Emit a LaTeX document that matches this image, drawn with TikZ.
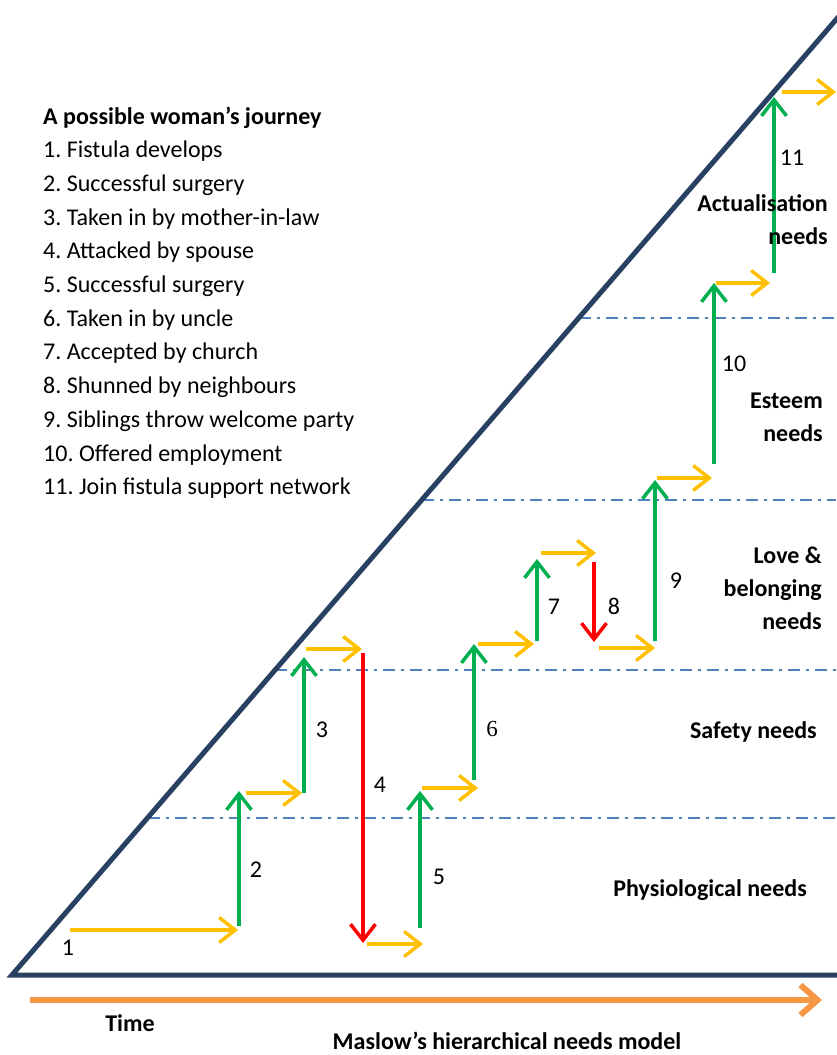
\documentclass[tikz,border=0pt]{standalone}
\usepackage{fontspec}
\setmainfont{Carlito}
\newfontfamily\numserif{Liberation Serif}
\usetikzlibrary{arrows.meta}
\definecolor{navy}{RGB}{40,64,98}
\definecolor{gold}{RGB}{255,192,0}
\definecolor{leaf}{RGB}{0,176,80}
\definecolor{alarm}{RGB}{255,0,0}
\definecolor{steel}{RGB}{79,129,189}
\definecolor{amber}{RGB}{247,150,70}
\tikzset{
  chev/.style={-{Straight Barb[length=16pt,width=25pt]}, line width=3.5pt},
  gain/.style={chev, draw=leaf},
  loss/.style={chev, draw=alarm},
  drift/.style={chev, draw=gold},
  level/.style={draw=steel, line width=1.5pt, dash pattern=on 12pt off 6pt on 3pt off 6pt},
  frame/.style={draw=navy, line width=5pt, line join=miter},
  txt/.style={font=\fontsize{24}{28}\selectfont, inner sep=0pt, text=black},
  btxt/.style={font=\fontsize{24}{28}\selectfont\bfseries, inner sep=0pt, text=black},
}
\begin{document}
\frenchspacing
\begin{tikzpicture}[x=1pt,y=-1pt]
\useasboundingbox (0,0) rectangle (836,1055);
\fill[white] (0,0) rectangle (836,1055);

% need levels (dash-dot separators)
\draw[level] (579,318) -- (836,318);
\draw[level] (422,500) -- (836,500);
\draw[level] (275,670) -- (836,670);
\draw[level] (148,818) -- (836,818);

% triangle frame
\coordinate (apex) at (853,0);
\coordinate (corner) at (12,975);
\coordinate (floor) at (850,975);
\draw[frame] (floor) -- (corner) -- (apex);

% time axis
\coordinate (t0) at (30,1000);
\coordinate (t1) at (822,1000);
\draw[amber, line width=6pt, -{Straight Barb[length=17pt,width=30pt]}] (t0) -- (t1);

% journey points
\coordinate (a0) at (70,930);   \coordinate (a1) at (238,930);
\coordinate (b0) at (239,926);  \coordinate (b1) at (239,791);
\coordinate (c0) at (246,793);  \coordinate (c1) at (302,793);
\coordinate (d0) at (304,793);  \coordinate (d1) at (304,657);
\coordinate (e0) at (306,649);  \coordinate (e1) at (362,649);
\coordinate (f0) at (363,653);  \coordinate (f1) at (363,943);
\coordinate (g0) at (367,944);  \coordinate (g1) at (423,944);
\coordinate (h0) at (420,928);  \coordinate (h1) at (420,791);
\coordinate (i0) at (422,788);  \coordinate (i1) at (478,788);
\coordinate (j0) at (474,780);  \coordinate (j1) at (474,644);
\coordinate (k0) at (478,644);  \coordinate (k1) at (534,644);
\coordinate (l0) at (537,641);  \coordinate (l1) at (537,559);
\coordinate (m0) at (541,553);  \coordinate (m1) at (596,553);
\coordinate (n0) at (594,562);  \coordinate (n1) at (594,642);
\coordinate (o0) at (599,648);  \coordinate (o1) at (655,648);
\coordinate (p0) at (655,641);  \coordinate (p1) at (655,480);
\coordinate (q0) at (657,478);  \coordinate (q1) at (712,478);
\coordinate (r0) at (714,464);  \coordinate (r1) at (714,283);
\coordinate (s0) at (716,283);  \coordinate (s1) at (770,283);
\coordinate (u0) at (774,273);  \coordinate (u1) at (774,97);
\coordinate (v0) at (782,92);   \coordinate (v1) at (836,92);

\draw[drift] (a0) -- (a1);
\draw[gain]  (b0) -- (b1);
\draw[drift] (c0) -- (c1);
\draw[gain]  (d0) -- (d1);
\draw[drift] (e0) -- (e1);
\draw[loss]  (f0) -- (f1);
\draw[drift] (g0) -- (g1);
\draw[gain]  (h0) -- (h1);
\draw[drift] (i0) -- (i1);
\draw[gain]  (j0) -- (j1);
\draw[drift] (k0) -- (k1);
\draw[gain]  (l0) -- (l1);
\draw[drift] (m0) -- (m1);
\draw[loss]  (n0) -- (n1);
\draw[drift] (o0) -- (o1);
\draw[gain]  (p0) -- (p1);
\draw[drift] (q0) -- (q1);
\draw[gain]  (r0) -- (r1);
\draw[drift] (s0) -- (s1);
\draw[gain]  (u0) -- (u1);
\draw[drift] (v0) -- (v1);

% step numbers
\node[txt] (lab1) at (68,948) {1};
\node[txt] (lab2) at (256,870) {2};
\node[txt] (lab3) at (322,730) {3};
\node[txt] (lab4) at (380,785) {4};
\node[txt] (lab5) at (439,877) {5};
\node[txt, font=\fontsize{23}{28}\numserif] (lab6) at (492,729) {6};
\node[txt] (lab7) at (554,607) {7};
\node[txt] (lab8) at (614,606) {8};
\node[txt] (lab9) at (676,581) {9};
\node[txt] (lab10) at (734,364) {10};
\node[txt] (lab11) at (792,158) {11};

% level names
\node[btxt, anchor=base east] (act1) at (828,211) {Actualisation};
\node[btxt, anchor=base east] (act2) at (828,244) {needs};
\node[btxt, anchor=base east] (est1) at (823,408) {Esteem};
\node[btxt, anchor=base east] (est2) at (823,441) {needs};
\node[btxt, anchor=base east] (lov1) at (822,563) {Love \&};
\node[btxt, anchor=base east] (lov2) at (822,596) {belonging};
\node[btxt, anchor=base east] (lov3) at (822,629) {needs};
\node[btxt, anchor=base east] (saf) at (817,738) {Safety needs};
\node[btxt, anchor=base east] (phy) at (807,896) {Physiological needs};

% journey legend
\node[btxt, anchor=base west] (title) at (43,124) {A possible woman’s journey};
\foreach \t [count=\i] in {Fistula develops, Successful surgery, Taken in by mother-in-law,
  Attacked by spouse, Successful surgery, Taken in by uncle, Accepted by church,
  Shunned by neighbours, Siblings throw welcome party, Offered employment,
  Join fistula support network}
  \node[txt, anchor=base west] (item\i) at (43,{124+33.7*\i}) {\i. \t};

% axis captions
\node[btxt] (time) at (130,1023) {Time};
\node[btxt] (caption) at (507,1041) {Maslow’s hierarchical needs model};
\end{tikzpicture}
\end{document}
